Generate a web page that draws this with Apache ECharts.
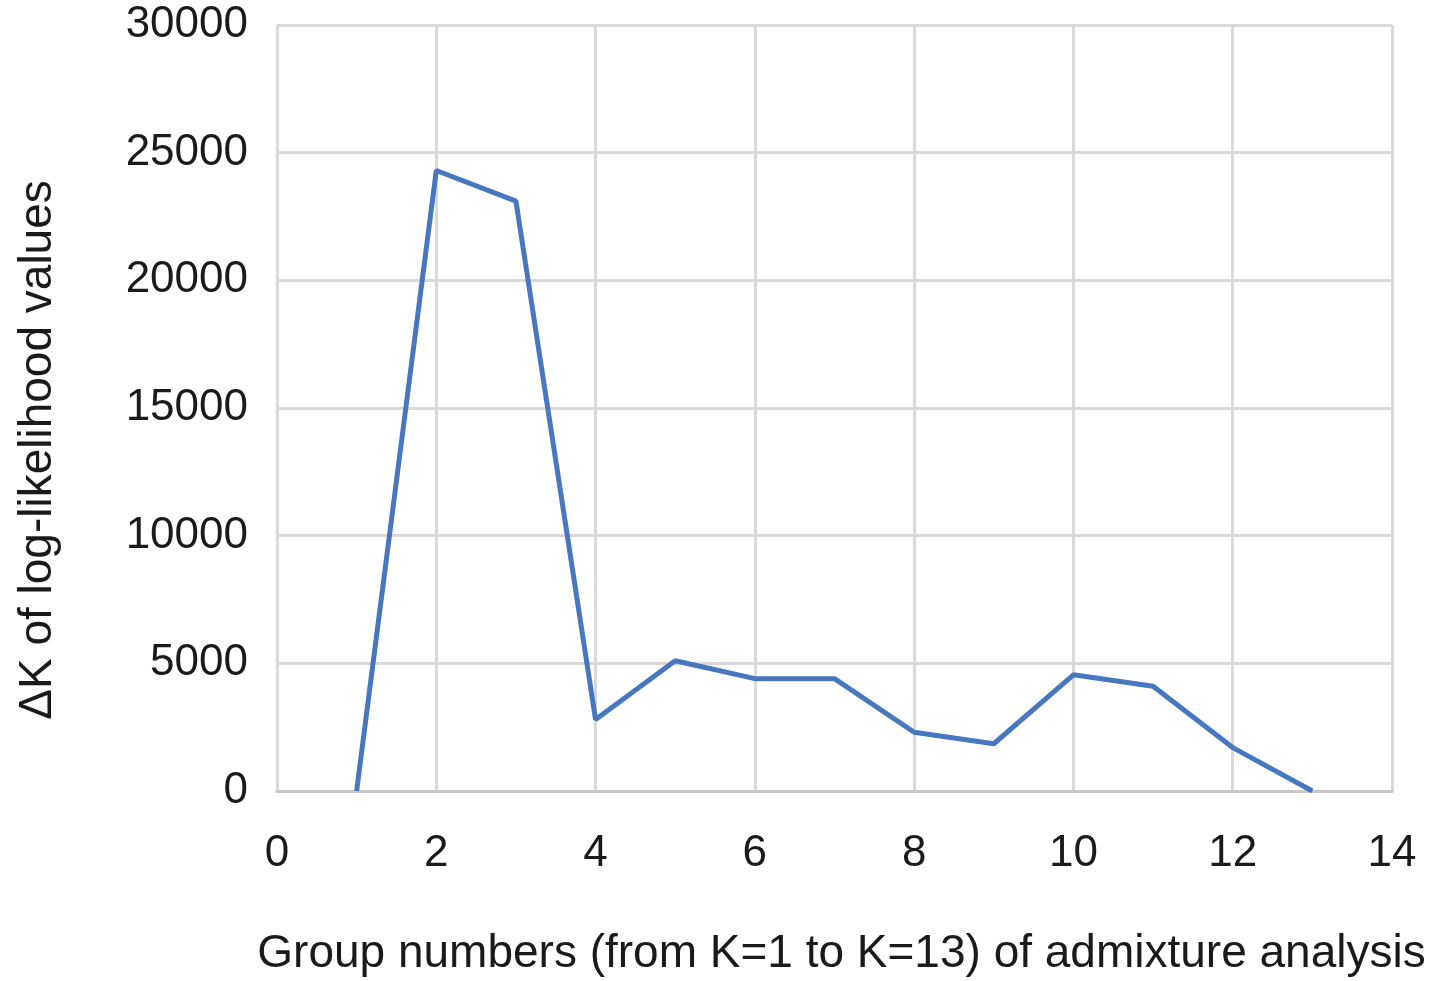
<!DOCTYPE html>
<html>
<head>
<meta charset="utf-8">
<script src="https://cdn.jsdelivr.net/npm/echarts@6/dist/echarts.min.js"></script>
<style>
html,body{margin:0;padding:0;background:#fff;}
#c{width:1439px;height:981px;}
</style>
</head>
<body>
<div id="c"></div>
<script>
const groupK = [1, 2, 3, 4, 5, 6, 7, 8, 9, 10, 11, 12, 13];
const deltaK = [0, 24300, 23100, 2800, 5100, 4400, 4400, 2300, 1850, 4550, 4100, 1700, 0];
const xTitle = 'Group numbers (from K=1 to K=13) of admixture analysis';
const yTitle = 'ΔK of log-likelihood values';

const chart = echarts.init(document.getElementById('c'), null, {renderer: 'canvas'});
const font = '"Liberation Sans", Arial, sans-serif';
chart.setOption({
  animation: false,
  backgroundColor: '#fff',
  grid: {left: 277, right: 47, top: 25, bottom: 190, containLabel: false, outerBoundsMode: 'none'},
  xAxis: {
    type: 'value', min: 0, max: 14, interval: 2,
    name: xTitle, nameLocation: 'middle', nameGap: 140,
    nameTextStyle: {fontFamily: font, fontSize: 46, color: '#1a1a1a', padding: [0, 0, 0, 14]},
    axisLine: {show: true, lineStyle: {color: '#c8c8c8', width: 3}},
    axisTick: {show: false},
    axisLabel: {fontFamily: font, fontSize: 44, color: '#1a1a1a', margin: 41, formatter: v => String(v)},
    splitLine: {show: true, lineStyle: {color: '#d9d9d9', width: 3}}
  },
  yAxis: {
    type: 'value', min: 0, max: 30000, interval: 5000,
    axisLine: {show: false},
    axisTick: {show: false},
    axisLabel: {fontFamily: font, fontSize: 44, color: '#1a1a1a', margin: 29, formatter: v => String(v), padding: [4, 0, 0, 0]},
    splitLine: {show: true, lineStyle: {color: '#d9d9d9', width: 3}}
  },
  graphic: [{
    type: 'text', rotation: Math.PI / 2,
    x: 38, y: 450,
    style: {text: yTitle, font: '46px ' + font, fill: '#1a1a1a', textAlign: 'center', textVerticalAlign: 'middle'}
  }],
  series: [{
    type: 'line',
    data: groupK.map((k, i) => [k, deltaK[i]]),
    showSymbol: false,
    lineStyle: {color: '#4677BF', width: 5},
    itemStyle: {color: '#4677BF'}
  }]
});
</script>
</body>
</html>
